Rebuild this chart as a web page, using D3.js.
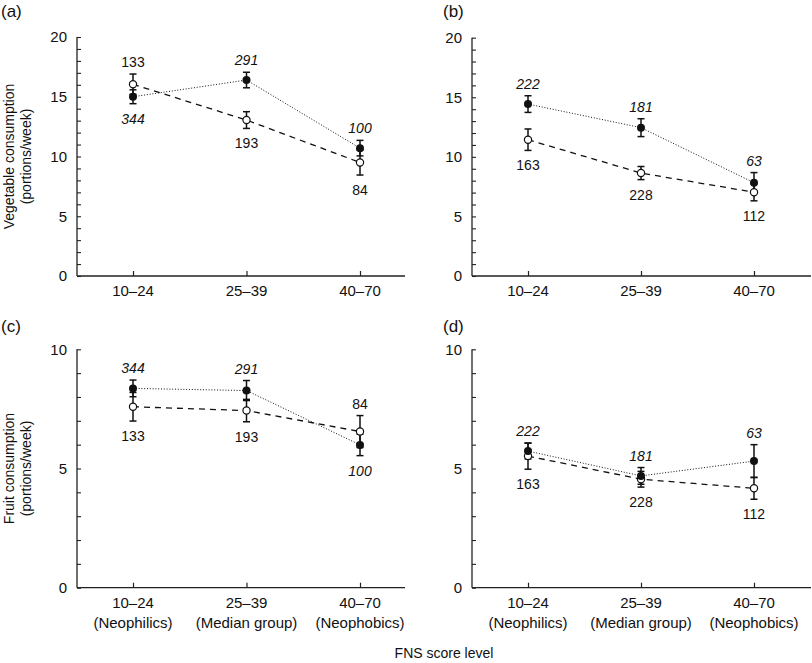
<!DOCTYPE html>
<html>
<head>
<meta charset="utf-8">
<script src="https://cdn.jsdelivr.net/npm/d3@7"></script>
<style>
  html, body { margin: 0; padding: 0; background: #fff; }
  svg { display: block; font-family: "Liberation Sans", Arial, Helvetica, sans-serif; }
</style>
</head>
<body>
<svg id="chart" width="812" height="663"></svg>
<script>
// ---------- DATA ----------
const categories = ["10–24", "25–39", "40–70"];
const categoryNotes = ["(Neophilics)", "(Median group)", "(Neophobics)"];
const vegTicks = [0, 5, 10, 15, 20];
const fruitTicks = [0, 5, 10];

// Panel (a) – vegetable
const vegA_filledMean = [15.0, 16.4, 10.7];
const vegA_filledErr  = [0.58, 0.65, 0.65];
const vegA_filledN    = [344, 291, 100];
const vegA_openMean   = [16.05, 13.05, 9.5];
const vegA_openErr    = [0.85, 0.7, 1.05];
const vegA_openN      = [133, 193, 84];

// Panel (b) – vegetable
const vegB_filledMean = [14.43, 12.45, 7.83];
const vegB_filledErr  = [0.7, 0.75, 0.85];
const vegB_filledN    = [222, 181, 63];
const vegB_openMean   = [11.44, 8.64, 7.03];
const vegB_openErr    = [0.9, 0.55, 0.72];
const vegB_openN      = [163, 228, 112];

// Panel (c) – fruit
const fruitC_filledMean = [8.36, 8.27, 5.99];
const fruitC_filledErr  = [0.35, 0.42, 0.45];
const fruitC_filledN    = [344, 291, 100];
const fruitC_openMean   = [7.59, 7.43, 6.55];
const fruitC_openErr    = [0.6, 0.47, 0.67];
const fruitC_openN      = [133, 193, 84];

// Panel (d) – fruit
const fruitD_filledMean = [5.73, 4.69, 5.31];
const fruitD_filledErr  = [0.33, 0.35, 0.69];
const fruitD_filledN    = [222, 181, 63];
const fruitD_openMean   = [5.52, 4.55, 4.17];
const fruitD_openErr    = [0.55, 0.33, 0.46];
const fruitD_openN      = [163, 228, 112];

// ---------- LAYOUT ----------
const svg = d3.select("#chart");
const FONT_TICK = 15, FONT_LAB = 14;

const panels = [
  { tag: "(a)", tagX: 1, tagY: 17, x0: 77, x1: 405, cx: [133, 360], yTop: 37, yBot: 276, max: 20, ticks: vegTicks,
    f: [vegA_filledMean, vegA_filledErr, vegA_filledN], o: [vegA_openMean, vegA_openErr, vegA_openN], notes: false },
  { tag: "(b)", tagX: 443, tagY: 17, x0: 472, x1: 811, cx: [528, 754], yTop: 37.7, yBot: 276, max: 20, ticks: vegTicks,
    f: [vegB_filledMean, vegB_filledErr, vegB_filledN], o: [vegB_openMean, vegB_openErr, vegB_openN], notes: false },
  { tag: "(c)", tagX: 1, tagY: 332, x0: 77, x1: 405, cx: [133, 360], yTop: 349.3, yBot: 587.7, max: 10, ticks: fruitTicks,
    f: [fruitC_filledMean, fruitC_filledErr, fruitC_filledN], o: [fruitC_openMean, fruitC_openErr, fruitC_openN], notes: true },
  { tag: "(d)", tagX: 443, tagY: 332, x0: 472, x1: 811, cx: [528, 754], yTop: 349.3, yBot: 587.7, max: 10, ticks: fruitTicks,
    f: [fruitD_filledMean, fruitD_filledErr, fruitD_filledN], o: [fruitD_openMean, fruitD_openErr, fruitD_openN], notes: true }
];

panels.forEach(p => {
  const g = svg.append("g");
  const x = d3.scalePoint().domain(categories).range(p.cx);
  const y = d3.scaleLinear().domain([0, p.max]).range([p.yBot, p.yTop]);

  // panel tag
  g.append("text").attr("x", p.tagX).attr("y", p.tagY)
    .attr("font-size", 17).attr("fill", "#111").text(p.tag);

  // y axis with minor ticks (every 1 unit, inward)
  const yAxis = d3.axisLeft(y).tickValues(d3.range(0, p.max + 1, 1))
    .tickSize(0).tickFormat("");
  const ya = g.append("g").attr("transform", `translate(${p.x0},0)`).call(yAxis);
  ya.select(".domain").remove();
  ya.selectAll(".tick line").attr("x1", 0).attr("x2", 4).attr("stroke", "#222").attr("stroke-width", 1.1);
  // major labels
  const yMaj = d3.axisLeft(y).tickValues(p.ticks).tickSize(0).tickPadding(10).tickFormat(d3.format("d"));
  const ym = g.append("g").attr("transform", `translate(${p.x0},0)`).call(yMaj);
  ym.select(".domain").remove();
  ym.selectAll("text").attr("font-size", FONT_TICK).attr("fill", "#111")
    .attr("font-family", "Liberation Sans, Arial, sans-serif");
  g.append("line").attr("x1", p.x0).attr("x2", p.x0).attr("y1", p.yTop).attr("y2", p.yBot)
    .attr("stroke", "#222").attr("stroke-width", 1.3);

  // x axis
  const xAxis = d3.axisBottom(x).tickSize(0).tickFormat("");
  const xa = g.append("g").attr("transform", `translate(0,${p.yBot})`).call(xAxis);
  xa.select(".domain").remove();
  xa.selectAll(".tick line").attr("y1", 0).attr("y2", -5).attr("stroke", "#222").attr("stroke-width", 1.2);
  g.append("line").attr("x1", p.x0).attr("x2", p.x1).attr("y1", p.yBot).attr("y2", p.yBot)
    .attr("stroke", "#222").attr("stroke-width", 1.3);
  categories.forEach((c, i) => {
    g.append("text").attr("x", x(c)).attr("y", p.yBot + 20).attr("text-anchor", "middle")
      .attr("font-size", FONT_TICK).attr("fill", "#111").text(c);
    if (p.notes) {
      g.append("text").attr("x", x(c)).attr("y", p.yBot + 40).attr("text-anchor", "middle")
        .attr("font-size", FONT_TICK).attr("fill", "#111").text(categoryNotes[i]);
    }
  });

  const mk = (arr) => categories.map((c, i) => ({ c, m: arr[0][i], e: arr[1][i], n: arr[2][i] }));
  const filled = mk(p.f), open = mk(p.o);

  const line = d3.line().x(d => x(d.c)).y(d => y(d.m));
  g.append("path").datum(open).attr("d", line).attr("fill", "none")
    .attr("stroke", "#111").attr("stroke-width", 1.3).attr("stroke-dasharray", "6,5");
  g.append("path").datum(filled).attr("d", line).attr("fill", "none")
    .attr("stroke", "#111").attr("stroke-width", 1).attr("stroke-dasharray", "1,1.8");

  const drawErr = (data) => {
    data.forEach(d => {
      const cx = x(d.c), yt = y(d.m + d.e), yb = y(d.m - d.e);
      g.append("line").attr("x1", cx).attr("x2", cx).attr("y1", yt).attr("y2", yb)
        .attr("stroke", "#111").attr("stroke-width", 1.5);
      [yt, yb].forEach(yy => g.append("line").attr("x1", cx - 3.5).attr("x2", cx + 3.5)
        .attr("y1", yy).attr("y2", yy).attr("stroke", "#111").attr("stroke-width", 1.5));
    });
  };
  drawErr(open); drawErr(filled);

  g.selectAll(null).data(open).join("circle")
    .attr("cx", d => x(d.c)).attr("cy", d => y(d.m)).attr("r", 3.6)
    .attr("fill", "#fff").attr("stroke", "#111").attr("stroke-width", 1.2);
  g.selectAll(null).data(filled).join("circle")
    .attr("cx", d => x(d.c)).attr("cy", d => y(d.m)).attr("r", 4)
    .attr("fill", "#111");

  // n labels: higher series above, lower below
  categories.forEach((c, i) => {
    const fd = filled[i], od = open[i];
    const fAbove = fd.m >= od.m;
    const place = (d, above, italic) => {
      const yy = above ? y(d.m + d.e) - 7 : y(d.m - d.e) + 20;
      g.append("text").attr("x", x(c)).attr("y", yy).attr("text-anchor", "middle")
        .attr("font-size", FONT_LAB).attr("fill", "#111")
        .attr("font-style", italic ? "italic" : "normal").text(d.n);
    };
    place(fd, fAbove, true);
    place(od, !fAbove, false);
  });
});

// y-axis titles
const yTitle = (lines, cy) => {
  lines.forEach((t, i) => {
    svg.append("text").attr("transform", `translate(${13.5 + i * 17},${cy}) rotate(-90)`)
      .attr("text-anchor", "middle").attr("font-size", 14).attr("fill", "#111").text(t);
  });
};
yTitle(["Vegetable consumption", "(portions/week)"], 156.5);
yTitle(["Fruit consumption", "(portions/week)"], 468.5);

// x title
svg.append("text").attr("x", 444).attr("y", 658).attr("text-anchor", "middle")
  .attr("font-size", 14).attr("fill", "#111").text("FNS score level");
</script>
</body>
</html>
